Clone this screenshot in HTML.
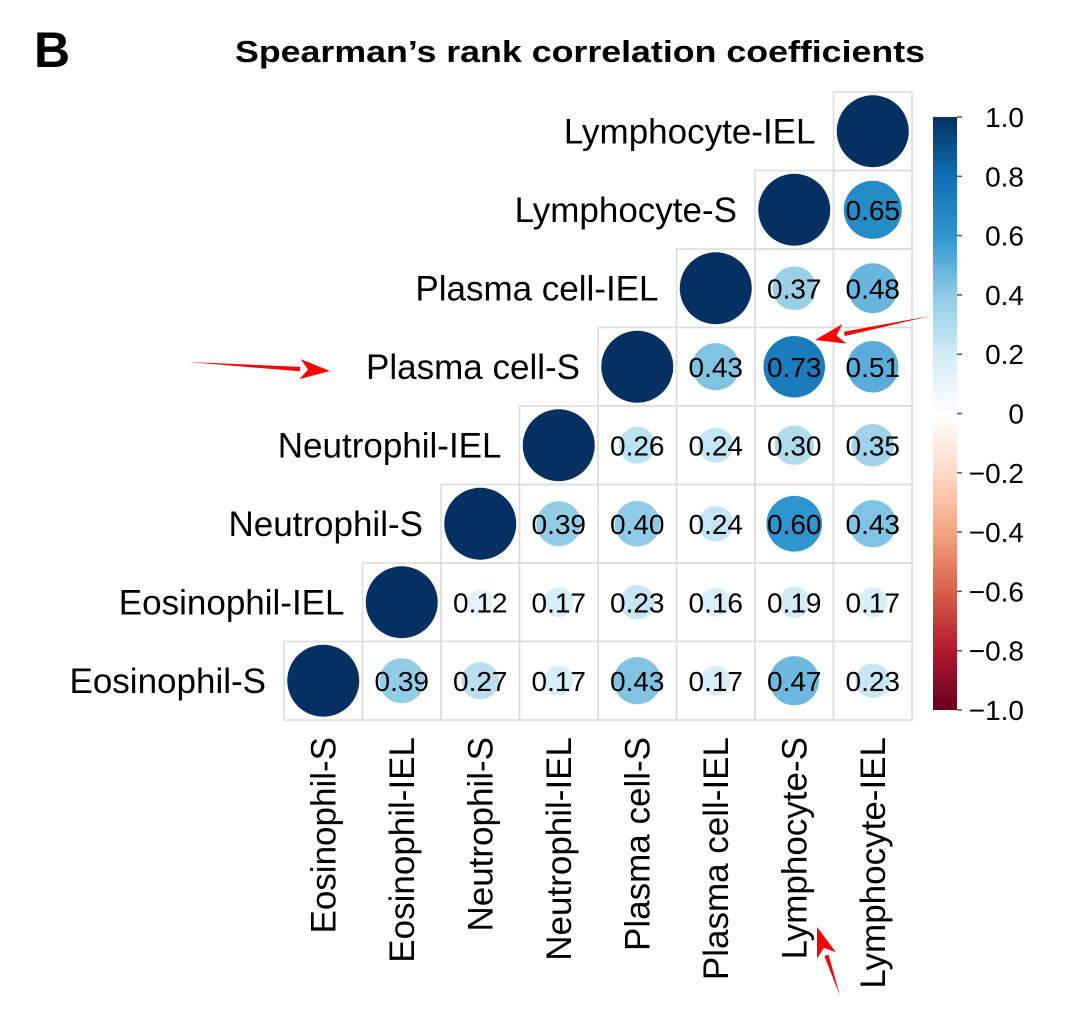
<!DOCTYPE html>
<html><head><meta charset="utf-8"><style>
html,body{margin:0;padding:0;background:#fff;}
svg{display:block;font-family:"Liberation Sans",Arial,sans-serif;}
</style></head><body>
<svg id="chart" width="1066" height="1020" viewBox="0 0 1066 1020">
<text x="34" y="67" font-size="50" font-weight="bold">B</text>
<text x="580" y="62" font-size="31" font-weight="bold" text-anchor="middle" textLength="690" lengthAdjust="spacingAndGlyphs">Spearman’s rank correlation coefficients</text>
<g id="grid"></g>
<g id="cbar"></g>
<g id="arrows"></g>
</svg>
<script>
const variables = ["Eosinophil-S","Eosinophil-IEL","Neutrophil-S","Neutrophil-IEL","Plasma cell-S","Plasma cell-IEL","Lymphocyte-S","Lymphocyte-IEL"];
const rowEosS = [1,0.39,0.27,0.17,0.43,0.17,0.47,0.23];
const rowEosIEL = [1,0.12,0.17,0.23,0.16,0.19,0.17];
const rowNeuS = [1,0.39,0.40,0.24,0.60,0.43];
const rowNeuIEL = [1,0.26,0.24,0.30,0.35];
const rowPcS = [1,0.43,0.73,0.51];
const rowPcIEL = [1,0.37,0.48];
const rowLyS = [1,0.65];
const rowLyIEL = [1];
const rows = [rowEosS,rowEosIEL,rowNeuS,rowNeuIEL,rowPcS,rowPcIEL,rowLyS,rowLyIEL];
const cbarTicks = [1.0,0.8,0.6,0.4,0.2,0,-0.2,-0.4,-0.6,-0.8,-1.0];

const NS="http://www.w3.org/2000/svg";
const gridL=284, gridT=92, cell=78.5, n=variables.length;
const xCol = w => gridL + w*cell;
const yRow = v => gridT + (n-1-v)*cell;
const palette=["#67001F","#B2182B","#D6604D","#F4A582","#FDDBC7","#FFFFFF","#D1ECF6","#8FCBE6","#2E95CF","#0F6FB3","#053061"];
function hex(h){return [1,3,5].map(i=>parseInt(h.substr(i,2),16));}
function color(r){
  const t=(r+1)/2*(palette.length-1);
  const i=Math.min(Math.floor(t),palette.length-2), f=t-i;
  const a=hex(palette[i]), b=hex(palette[i+1]);
  return "rgb("+a.map((c,k)=>Math.round(c+(b[k]-c)*f)).join(",")+")";
}
function mk(tag,attrs,parent){const e=document.createElementNS(NS,tag);for(const k in attrs)e.setAttribute(k,attrs[k]);parent.appendChild(e);return e;}
const grid=document.getElementById("grid");
const maxR=36;
rows.forEach((vals,v)=>{
  vals.forEach((r,k)=>{
    const w=v+k;
    const x=xCol(w), y=yRow(v);
    const rect=mk("rect",{x:x,y:y,width:cell,height:cell,fill:"none",stroke:"#dcdcdc","stroke-width":1.5},grid);
    
    
    const c=mk("circle",{cx:x+cell/2,cy:y+cell/2,r:maxR*Math.sqrt(Math.abs(r)),fill:color(r)},grid);
    
    
    if(k>0){
      const t=mk("text",{x:x+cell/2,y:y+cell/2+10,"font-size":28,"text-anchor":"middle",fill:"#000"},grid);
      t.textContent=r.toFixed(2);
      
      
    }
  });
});
variables.forEach((name,v)=>{
  const t=mk("text",{x:xCol(v)-18,y:yRow(v)+cell/2+12,"font-size":35,"text-anchor":"end"},grid);
  t.textContent=name;
  
  
  const cx=xCol(v)+cell/2+12, cy=737;
  const t2=mk("text",{x:cx,y:cy,"font-size":35,"text-anchor":"end",transform:"rotate(-90 "+cx+" "+cy+")"},grid);
  t2.textContent=name;
  
  
});
const cb=document.getElementById("cbar");
const cbX=933, cbW=24, cbT=117, cbB=710;
const defs=mk("defs",{},cb);
const lg=mk("linearGradient",{id:"cbg",x1:0,y1:0,x2:0,y2:1},defs);
palette.slice().reverse().forEach((c,i)=>mk("stop",{offset:i/(palette.length-1),"stop-color":c},lg));
const bar=mk("rect",{x:cbX,y:cbT,width:cbW,height:cbB-cbT,fill:"url(#cbg)"},cb);


const yCb = val => cbT + (1-val)/2*(cbB-cbT);
cbarTicks.forEach(val=>{
  const y=yCb(val);
  const tk=mk("line",{x1:cbX+cbW,x2:cbX+cbW+5,y1:y,y2:y,stroke:"#555","stroke-width":1.5},cb);
  
  
  const t=mk("text",{x:1024,y:y+10,"font-size":28,"text-anchor":"end"},cb);
  t.textContent = val===0?"0":(val<0?"\u2212"+Math.abs(val).toFixed(1):val.toFixed(1));
  
  
});
const ar=document.getElementById("arrows");
function arrow(x1,y1,x2,y2){
  const dx=x2-x1, dy=y2-y1, L=Math.hypot(dx,dy), ux=dx/L, uy=dy/L;
  const hl=30, hw=10, sw=2.2;
  const bx=x2-ux*hl, by=y2-uy*hl;
  mk("polygon",{points:`${x1},${y1} ${bx-uy*sw},${by+ux*sw} ${bx+uy*sw},${by-ux*sw}`,fill:"#f00"},ar);
  mk("polygon",{points:`${x2},${y2} ${bx-uy*hw},${by+ux*hw} ${bx+ux*8},${by+uy*8} ${bx+uy*hw},${by-ux*hw}`,fill:"#f00"},ar);
}
arrow(188,362,330,371);
arrow(930,316,815,340);
arrow(840,996,817,927);
</script>
</body></html>
